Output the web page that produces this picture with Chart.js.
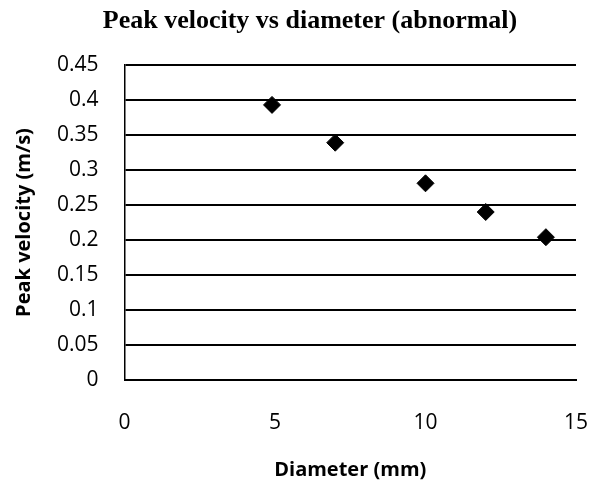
<!DOCTYPE html>
<html lang="en">
<head>
  <meta charset="UTF-8">
  <title>Peak velocity vs diameter (abnormal)</title>
  <script src="https://cdn.jsdelivr.net/npm/chart.js"></script>
  <style>
    body { margin: 0; background: #fff; }
    #wrap { width: 593px; height: 484px; }
  </style>
</head>
<body>
  <div id="wrap">
    <canvas id="velocityChart" width="593" height="484"></canvas>
  </div>

  <script>
    // values
    const chartTitle = 'Peak velocity vs diameter (abnormal)';
    const diameters = [4.9, 7, 10, 12, 14];
    const peakVelocity = [0.393, 0.339, 0.281, 0.240, 0.204];
    const yTickLabels = ['0', '0.05', '0.1', '0.15', '0.2', '0.25', '0.3', '0.35', '0.4', '0.45'];
    const xTickLabels = ['0', '5', '10', '15'];

    // serif title drawn a bit right of the canvas centre, like the original
    const titlePlugin = {
      id: 'serifTitle',
      afterDraw(chart) {
        const ctx = chart.ctx;
        ctx.save();
        ctx.font = 'bold 26px "Liberation Serif", "Times New Roman", serif';
        ctx.fillStyle = '#000';
        ctx.textAlign = 'center';
        ctx.textBaseline = 'middle';
        ctx.fillText(chartTitle, 310, 21);
        ctx.restore();
      }
    };

    const tickFont = { family: '"Open Sans", sans-serif', size: 21 };
    // tall line box pushes the x labels away from the axis (like the original)
    const xTickFont = { family: '"Open Sans", sans-serif', size: 21, lineHeight: '78px' };
    const axisTitleFont = { family: '"Open Sans", sans-serif', size: 20, weight: 'bold' };

    const ctx = document.getElementById('velocityChart').getContext('2d');
    new Chart(ctx, {
      type: 'scatter',
      data: {
        datasets: [{
          label: 'Peak velocity',
          data: diameters.map((d, i) => ({ x: d, y: peakVelocity[i] })),
          pointStyle: 'rectRot',
          pointRadius: 8.5,
          pointBackgroundColor: '#000',
          pointBorderColor: '#000',
          pointBorderWidth: 1,
          showLine: false
        }]
      },
      options: {
        responsive: false,
        animation: false,
        layout: { padding: { top: 65, right: 17, bottom: 0, left: 0 } },
        plugins: {
          legend: { display: false },
          tooltip: { enabled: false }
        },
        scales: {
          x: {
            type: 'linear',
            min: 0,
            max: 15,
            ticks: {
              stepSize: 5,
              padding: 4,
              color: '#000',
              font: xTickFont,
              callback: (v, i) => xTickLabels[i]
            },
            grid: { display: false, drawTicks: false },
            border: { display: true, color: '#000', width: 2 },
            title: {
              display: true,
              text: 'Diameter (mm)',
              color: '#000',
              font: axisTitleFont,
              padding: { top: -8, bottom: 2 }
            }
          },
          y: {
            min: 0,
            max: 0.45,
            ticks: {
              stepSize: 0.05,
              padding: 26,
              color: '#000',
              font: tickFont,
              callback: (v, i) => yTickLabels[i]
            },
            grid: { color: '#000', lineWidth: 2, drawTicks: false },
            border: { display: true, color: '#000', width: 1.5 },
            title: {
              display: true,
              text: 'Peak velocity (m/s)',
              color: '#000',
              font: axisTitleFont,
              padding: { top: 12, bottom: -5 }
            }
          }
        }
      },
      plugins: [titlePlugin]
    });
  </script>
</body>
</html>
